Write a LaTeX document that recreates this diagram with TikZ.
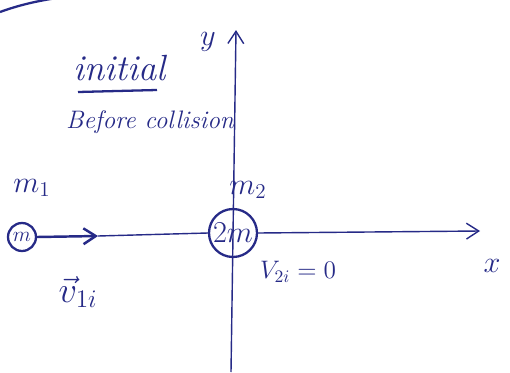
\documentclass[tikz,border=0pt]{standalone}
\usetikzlibrary{arrows.meta}
\definecolor{ink}{RGB}{38,42,135}
\begin{document}
\begin{tikzpicture}[
x=0.02cm, y=-0.02cm,
every node/.style={text=ink},
mass/.style={circle,draw=ink,line width=1.3pt,inner sep=0pt},
axis/.style={draw=ink,line width=0.8pt},
tip/.style={-{Straight Barb[length=7pt,width=9pt]}}
]
\useasboundingbox[fill=white] (0,0) rectangle (510,372);
% masses
\node[mass,minimum size=0.56cm] (m1) at (22,237) {\large$m$};
\node[mass,minimum size=0.96cm] (m2) at (233,233) {\LARGE$2m$};
\coordinate (v1tip) at (98,236);
\coordinate (xtip) at (480,231);
\coordinate (ybot) at (231,372);
\coordinate (ytip) at (236,30);
% axes
\draw[axis,tip] (ybot) -- (ytip);
\draw[axis,line width=1.4pt,tip] (m1.east) -- (v1tip);
\draw[axis] (v1tip) -- (m2.west);
\draw[axis,tip] (m2.east) -- (xtip);
% labels
\node (ylab) at (208,42) {\LARGE$y$};
\node (xlab) at (492,266) {\LARGE$x$};
\node (lm1) at (32,188) {\LARGE$m_1$};
\node (lm2) at (248,190) {\LARGE$m_2$};
\node (lv1) at (78,292) {\huge$\vec{v}_{1i}$};
\node (lv2) at (298,272) {\Large$V_{2i}=0$};
\node (init) at (120,68) {\huge\itshape initial};
\coordinate (ul1) at (78,92);
\coordinate (ul2) at (157,90);
\draw[ink,line width=1.3pt] (ul1) -- (ul2);
\node (before) at (150,122) {\Large\itshape Before collision};
% corner arc
\draw[ink,line width=1.3pt] (0,12) .. controls (22,4) and (42,0) .. (64,-3);
\end{tikzpicture}
\end{document}
